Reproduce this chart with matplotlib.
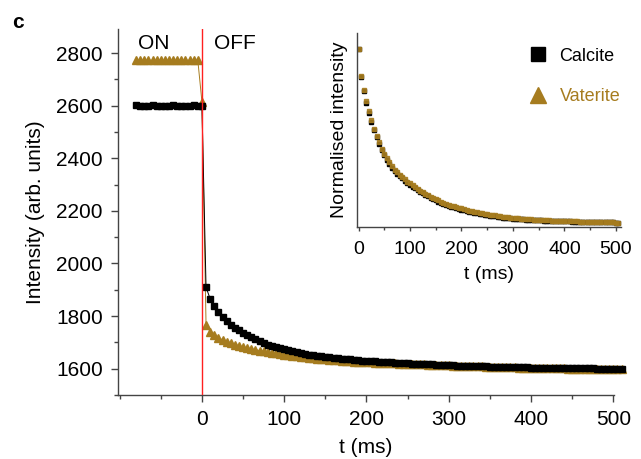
import numpy as np
import matplotlib
matplotlib.use('Agg')
import matplotlib.pyplot as plt
from matplotlib.lines import Line2D
from matplotlib.ticker import MultipleLocator

plt.rcParams['font.family'] = ['Liberation Sans', 'DejaVu Sans']

brown = '#a67c1f'

# laser ON part (ms) and values
t_on = [-80, -75, -70, -65, -60, -55, -50, -45, -40, -35, -30, -25, -20, -15, -10, -5, 0]
calcite_on = [2601, 2600, 2599, 2600, 2601, 2600, 2600, 2599, 2600, 2601,
              2600, 2600, 2599, 2600, 2601, 2600, 2600]
vaterite_on = [2772, 2772, 2772, 2772, 2772, 2772, 2772, 2772, 2772, 2772,
               2772, 2772, 2772, 2772, 2772, 2772, 2615]

# laser OFF part, one point every 5 ms from 5 to 510 ms
t_off = np.arange(5, 515, 5)
calcite_off = [1909, 1866, 1838, 1816, 1797, 1780, 1766, 1756, 1746, 1737,
               1728, 1720, 1713, 1706, 1698, 1692, 1687, 1682, 1678, 1674,
               1670, 1666, 1663, 1660, 1657, 1654, 1652, 1650, 1648, 1646,
               1644, 1642, 1640, 1638, 1637, 1635, 1634, 1632, 1631, 1630,
               1629, 1628, 1627, 1626, 1625, 1624, 1623, 1622, 1621, 1620,
               1619, 1618, 1618, 1617, 1616, 1616, 1615, 1614, 1614, 1613,
               1613, 1612, 1612, 1611, 1611, 1610, 1610, 1609, 1609, 1608,
               1608, 1607, 1607, 1607, 1606, 1606, 1605, 1605, 1605, 1604,
               1604, 1604, 1603, 1603, 1603, 1603, 1602, 1602, 1602, 1602,
               1601, 1601, 1601, 1601, 1601, 1600, 1600, 1600, 1600, 1600,
               1600, 1600]
vaterite_off = [1768, 1740, 1728, 1718, 1710, 1703, 1697, 1692, 1687, 1683,
                1679, 1675, 1672, 1669, 1666, 1663, 1660, 1658, 1655, 1653,
                1651, 1649, 1647, 1645, 1643, 1641, 1640, 1638, 1637, 1635,
                1634, 1633, 1632, 1630, 1629, 1628, 1627, 1626, 1625, 1625,
                1624, 1623, 1622, 1622, 1621, 1620, 1620, 1619, 1618, 1618,
                1617, 1617, 1616, 1616, 1615, 1615, 1614, 1614, 1613, 1613,
                1612, 1612, 1611, 1611, 1610, 1610, 1609, 1609, 1608, 1608,
                1607, 1607, 1606, 1606, 1605, 1605, 1604, 1604, 1604, 1603,
                1603, 1603, 1602, 1602, 1602, 1601, 1601, 1601, 1600, 1600,
                1600, 1600, 1599, 1599, 1599, 1599, 1598, 1598, 1598, 1598,
                1598, 1598]

# inset: normalised decay
t_norm = np.arange(0, 510, 5)
calcite_norm = [1.000, 0.840, 0.758, 0.690, 0.633, 0.581, 0.533, 0.493, 0.454, 0.418,
                0.388, 0.362, 0.338, 0.316, 0.297, 0.282, 0.268, 0.254, 0.241, 0.229,
                0.218, 0.207, 0.197, 0.187, 0.177, 0.168, 0.158, 0.150, 0.142, 0.134,
                0.127, 0.120, 0.114, 0.108, 0.102, 0.097, 0.092, 0.087, 0.083, 0.079,
                0.075, 0.071, 0.067, 0.063, 0.060, 0.057, 0.053, 0.050, 0.047, 0.044,
                0.042, 0.040, 0.037, 0.035, 0.033, 0.031, 0.029, 0.027, 0.026, 0.024,
                0.023, 0.022, 0.020, 0.019, 0.018, 0.017, 0.016, 0.015, 0.014, 0.013,
                0.013, 0.012, 0.011, 0.011, 0.010, 0.009, 0.009, 0.008, 0.008, 0.007,
                0.007, 0.006, 0.006, 0.005, 0.005, 0.005, 0.004, 0.004, 0.004, 0.003,
                0.003, 0.003, 0.002, 0.002, 0.002, 0.002, 0.001, 0.001, 0.001, 0.001,
                0.000, 0.000]
vaterite_norm = [1.000, 0.845, 0.765, 0.698, 0.641, 0.589, 0.541, 0.500, 0.462, 0.426,
                 0.396, 0.370, 0.346, 0.324, 0.305, 0.289, 0.275, 0.261, 0.248, 0.236,
                 0.225, 0.214, 0.204, 0.194, 0.184, 0.175, 0.165, 0.157, 0.149, 0.141,
                 0.134, 0.127, 0.121, 0.114, 0.108, 0.103, 0.098, 0.093, 0.089, 0.085,
                 0.081, 0.077, 0.073, 0.069, 0.066, 0.062, 0.059, 0.056, 0.053, 0.050,
                 0.048, 0.045, 0.043, 0.041, 0.038, 0.036, 0.034, 0.032, 0.031, 0.029,
                 0.027, 0.026, 0.024, 0.023, 0.022, 0.021, 0.019, 0.018, 0.017, 0.016,
                 0.015, 0.015, 0.014, 0.013, 0.012, 0.011, 0.011, 0.010, 0.009, 0.009,
                 0.008, 0.008, 0.007, 0.007, 0.006, 0.006, 0.005, 0.005, 0.004, 0.004,
                 0.004, 0.003, 0.003, 0.003, 0.002, 0.002, 0.002, 0.001, 0.001, 0.001,
                 0.000, 0.000]

t_cal = np.concatenate([t_on, t_off])
t_vat = np.concatenate([t_on, t_off])
calcite = np.concatenate([calcite_on, calcite_off])
vaterite = np.concatenate([vaterite_on, vaterite_off])

fig = plt.figure(figsize=(6.41, 4.59), dpi=100)
ax = fig.add_axes([0.1841, 0.1394, 0.774, 0.7967])

ax.plot(t_vat, vaterite, color=brown, lw=0.7, marker='^', ms=6, mec=brown, clip_on=False, zorder=3)
ax.plot(t_cal, calcite, color='black', lw=0.7, marker='s', ms=5, mec='black', clip_on=False, zorder=4)
ax.axvline(0, color='#ff2020', lw=1.0, zorder=5)

ax.set_xlim(-102, 501)
ax.set_ylim(1500, 2890)
ax.set_xticks([0, 100, 200, 300, 400, 500])
ax.set_yticks([1600, 1800, 2000, 2200, 2400, 2600, 2800])
ax.xaxis.set_minor_locator(MultipleLocator(50))
ax.yaxis.set_minor_locator(MultipleLocator(100))
for s in ['top', 'right']:
    ax.spines[s].set_visible(False)
for s in ['left', 'bottom']:
    ax.spines[s].set_color('#444444')
    ax.spines[s].set_linewidth(1.0)
ax.tick_params(which='major', length=5, width=1.0, color='#444444', labelsize=15, pad=6)
ax.tick_params(which='minor', length=3, width=1.0, color='#444444')
ax.set_xlabel('t (ms)', fontsize=15, labelpad=6)
ax.set_ylabel('Intensity (arb. units)', fontsize=15, labelpad=8)

ax.text(-58, 2835, 'ON', fontsize=15, ha='center', va='center')
ax.text(40, 2835, 'OFF', fontsize=15, ha='center', va='center')
fig.text(0.028, 0.952, 'c', fontsize=15, fontweight='bold', ha='center', va='center')

# inset
ins = fig.add_axes([0.5562, 0.5061, 0.4126, 0.422])
ins.plot(t_norm, calcite_norm, ls='none', marker='s', ms=2.6, color='black')
ins.plot(t_norm, vaterite_norm, ls='none', marker='s', ms=2.6, color=brown, alpha=0.9)
ins.set_xlim(-4, 510)
ins.set_ylim(-0.024, 1.092)
ins.set_xticks([0, 100, 200, 300, 400, 500])
ins.xaxis.set_minor_locator(MultipleLocator(50))
ins.set_yticks([])
for s in ['top', 'right']:
    ins.spines[s].set_visible(False)
for s in ['left', 'bottom']:
    ins.spines[s].set_color('#444444')
    ins.spines[s].set_linewidth(1.0)
ins.tick_params(which='major', length=3, width=1.0, color='#444444', labelsize=14, pad=7)
ins.tick_params(which='minor', length=2, width=1.0, color='#444444')
ins.set_xlabel('t (ms)', fontsize=14, labelpad=6)
ins.set_ylabel('Normalised intensity', fontsize=14, labelpad=6)
ins.patch.set_alpha(0)

handles = [Line2D([], [], ls='none', marker='s', ms=10, color='black'),
           Line2D([], [], ls='none', marker='^', ms=12, color=brown)]
fig.legend(handles, ['Calcite', 'Vaterite'], loc='upper left', bbox_to_anchor=(0.811, 0.916),
           bbox_transform=fig.transFigure, frameon=False, fontsize=13, labelcolor=['black', brown],
           handlelength=1.0, handletextpad=0.7, labelspacing=1.3, borderpad=0)

fig.savefig('out.png', dpi=100)
